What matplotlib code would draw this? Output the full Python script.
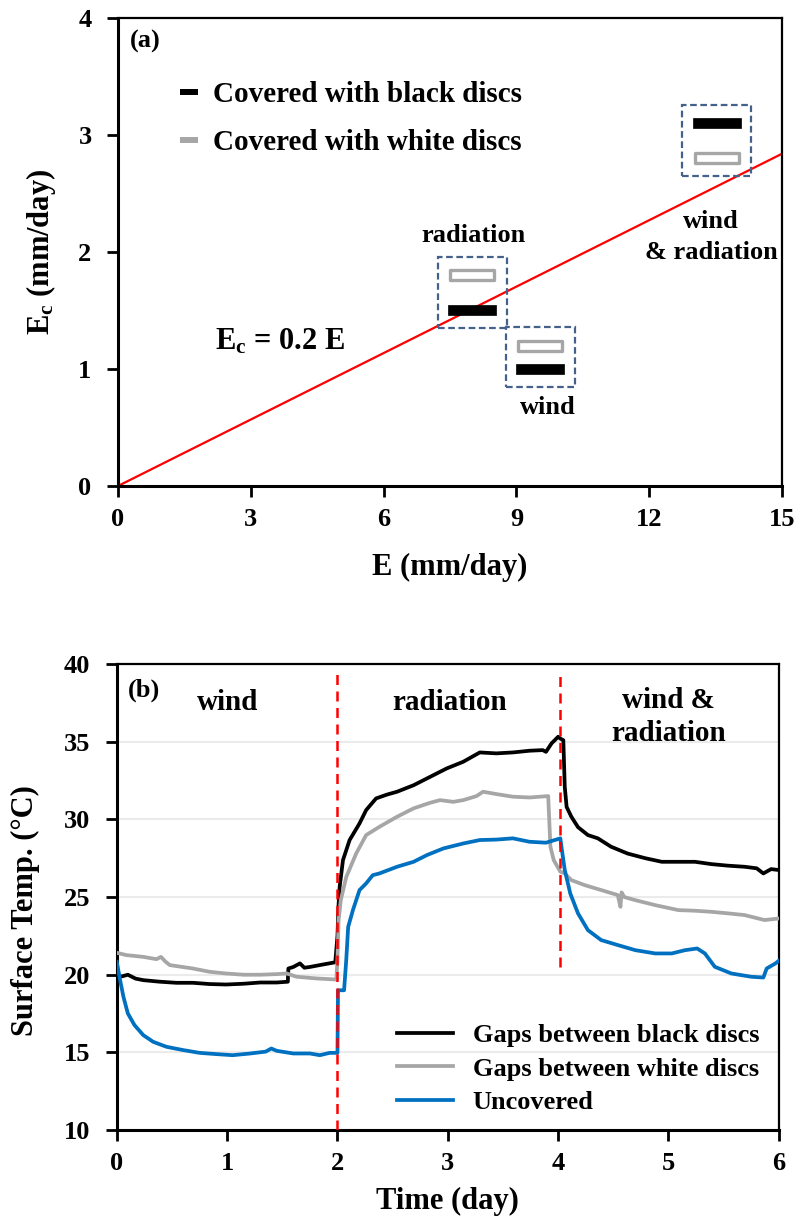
import matplotlib
matplotlib.use('Agg')
import matplotlib.pyplot as plt
from matplotlib.path import Path
from matplotlib.patches import Rectangle
from matplotlib.lines import Line2D

plt.rcParams['font.family'] = ['Liberation Serif', 'DejaVu Serif']
plt.rcParams['font.weight'] = 'bold'
plt.rcParams['axes.labelweight'] = 'bold'
plt.rcParams['mathtext.fontset'] = 'custom'
plt.rcParams['mathtext.rm'] = 'Liberation Serif:bold'
plt.rcParams['mathtext.bf'] = 'Liberation Serif:bold'
plt.rcParams['mathtext.it'] = 'Liberation Serif:bold'

# ---- panel (a) data ----
fit_E = [0, 15]
fit_Ec = [0, 2.84]
case_names = ['radiation', 'wind', 'wind\n& radiation']
case_E = [8.0, 9.54, 13.53]
black_Ec = [1.50, 1.00, 3.10]
white_Ec = [1.80, 1.20, 2.80]
label_E = [8.02, 9.71, 13.4]
label_Ec = [2.145, 0.675, 2.125]

# ---- panel (b) data ----
black_t = [0, 0.05, 0.10, 0.17, 0.24, 0.39, 0.54, 0.69, 0.84, 0.99, 1.15, 1.30, 1.45, 1.55,
           1.555, 1.60, 1.66, 1.70, 1.75, 1.87, 1.98, 2.00, 2.01, 2.02, 2.05, 2.11, 2.20,
           2.26, 2.35, 2.45, 2.54, 2.69, 2.84, 2.99, 3.14, 3.29, 3.44, 3.59, 3.74, 3.86,
           3.89, 3.94, 4.00, 4.02, 4.047, 4.06, 4.077, 4.12, 4.18, 4.27, 4.36, 4.48, 4.63,
           4.79, 4.94, 5.09, 5.24, 5.39, 5.54, 5.69, 5.80, 5.86, 5.93, 6.0]
black_T = [19.87, 19.9, 20.0, 19.75, 19.65, 19.55, 19.48, 19.48, 19.4, 19.37, 19.42, 19.5,
           19.5, 19.55, 20.4, 20.5, 20.73, 20.45, 20.5, 20.66, 20.8, 22.5, 24.5, 25.66,
           27.38, 28.67, 29.74, 30.6, 31.35, 31.6, 31.78, 32.2, 32.74, 33.28, 33.71, 34.31,
           34.25, 34.31, 34.42, 34.46, 34.35, 34.89, 35.32, 35.2, 35.1, 32.1, 30.8, 30.17,
           29.5, 28.99, 28.78, 28.24, 27.8, 27.5, 27.27, 27.27, 27.27, 27.12, 27.02, 26.95,
           26.85, 26.52, 26.8, 26.74]

white_t = [0, 0.09, 0.24, 0.36, 0.40, 0.44, 0.48, 0.69, 0.84, 0.99, 1.15, 1.30, 1.45, 1.54,
           1.63, 1.81, 1.99, 2.00, 2.01, 2.03, 2.08, 2.17, 2.26, 2.38, 2.54, 2.69, 2.84,
           2.93, 3.05, 3.14, 3.26, 3.32, 3.44, 3.59, 3.74, 3.91, 3.93, 3.96, 4.02, 4.06,
           4.12, 4.24, 4.39, 4.54, 4.565, 4.575, 4.60, 4.70, 4.88, 5.09, 5.24, 5.39, 5.54,
           5.69, 5.87, 6.0]
white_T = [21.41, 21.26, 21.15, 21.0, 21.15, 20.85, 20.62, 20.4, 20.19, 20.08, 20.0, 20.0,
           20.04, 20.08, 19.87, 19.76, 19.69, 21.0, 23.5, 24.8, 26.3, 27.81, 28.99, 29.52,
           30.17, 30.71, 31.07, 31.24, 31.13, 31.24, 31.5, 31.78, 31.63, 31.46, 31.41,
           31.5, 28.24, 27.38, 26.63, 26.52, 26.09, 25.77, 25.45, 25.13, 24.37, 25.3, 25.0,
           24.8, 24.48, 24.16, 24.12, 24.05, 23.95, 23.84, 23.52, 23.62]

bare_t = [0, 0.03, 0.06, 0.10, 0.16, 0.24, 0.33, 0.45, 0.60, 0.75, 0.90, 1.05, 1.21, 1.35,
          1.40, 1.45, 1.60, 1.75, 1.84, 1.93, 2.00, 2.005, 2.06, 2.08, 2.097, 2.14, 2.20,
          2.26, 2.32, 2.38, 2.54, 2.69, 2.81, 2.96, 3.14, 3.29, 3.44, 3.59, 3.74, 3.89,
          4.02, 4.03, 4.06, 4.11, 4.18, 4.27, 4.39, 4.54, 4.70, 4.88, 5.03, 5.15, 5.26,
          5.33, 5.42, 5.57, 5.75, 5.86, 5.89, 5.97, 6.0]
bare_T = [20.83, 19.65, 18.58, 17.51, 16.76, 16.11, 15.68, 15.36, 15.15, 14.97, 14.89,
          14.82, 14.93, 15.05, 15.25, 15.1, 14.93, 14.93, 14.82, 14.97, 14.97, 19.0, 19.0,
          21.0, 23.08, 24.16, 25.45, 25.88, 26.41, 26.52, 26.95, 27.27, 27.7, 28.13, 28.45,
          28.67, 28.7, 28.78, 28.56, 28.5, 28.78, 28.24, 26.74, 25.23, 23.95, 22.87, 22.23,
          21.91, 21.58, 21.37, 21.37, 21.58, 21.69, 21.37, 20.51, 20.08, 19.87, 19.82,
          20.4, 20.73, 20.9]

phase_names = ['wind', 'radiation', 'wind &\nradiation']
phase_t = [1.0, 3.02, 5.0]
phase_T = [37.55, 37.55, 36.6]
switch_t = [2.0, 4.02]
switch_lo = [10, 20.5]
switch_hi = [39.7, 39.2]

GRAY = '#a6a6a6'
BLUE = '#0070c0'
BOX = '#44618c'

fig = plt.figure(figsize=(8, 12.18), dpi=100)
ax1 = fig.add_axes([0.1475, 0.601, 0.83, 0.3842])
ax2 = fig.add_axes([0.146, 0.0722, 0.8275, 0.3826])

# ---------------- panel (a) ----------------
ax1.plot(fit_E, fit_Ec, color='red', lw=1.6, zorder=2)

bar = Path([(-1, -0.21), (1, -0.21), (1, 0.21), (-1, 0.21), (-1, -0.21)],
           [Path.MOVETO, Path.LINETO, Path.LINETO, Path.LINETO, Path.CLOSEPOLY])
ax1.plot(case_E, black_Ec, ls='none', marker=bar, ms=34, mfc='black', mec='black', mew=0.5, zorder=4)
ax1.plot(case_E, white_Ec, ls='none', marker=bar, ms=32, mfc='white', mec=GRAY, mew=2.4, zorder=4)

for e, b, w in zip(case_E, black_Ec, white_Ec):
    lo = min(b, w) - 0.15
    hi = max(b, w) + 0.16
    ax1.add_patch(Rectangle((e - 0.78, lo), 1.56, hi - lo, fill=False, ec=BOX,
                            lw=1.6, ls=(0, (3, 1.6)), zorder=3))

for name, x, y in zip(case_names, label_E, label_Ec):
    ax1.text(x, y, name, ha='center', va='center', fontsize=19, linespacing=1.45)

ax1.text(2.2, 1.23, r'$\mathbf{E_c}$ = 0.2 E', fontsize=22, ha='left', va='center')
ax1.text(0.018, 0.949, '(a)', transform=ax1.transAxes, fontsize=19, va='center')

h1 = [Line2D([], [], color='black', lw=4.3, solid_capstyle='butt'),
      Line2D([], [], color=GRAY, lw=4.3, solid_capstyle='butt')]
ax1.legend(h1, ['Covered with black discs', 'Covered with white discs'], loc='upper left',
           bbox_to_anchor=(0.094, 0.866), frameon=False, fontsize=21, handlelength=0.62,
           handletextpad=0.5, labelspacing=0.72, borderpad=0, borderaxespad=0)

ax1.set_xlim(0, 15)
ax1.set_ylim(0, 4)
ax1.set_xticks([0, 3, 6, 9, 12, 15])
ax1.set_yticks([0, 1, 2, 3, 4])
ax1.set_xlabel('E (mm/day)', fontsize=22)
ax1.set_ylabel(r'$\mathbf{E_c}$ (mm/day)', fontsize=22)
ax1.xaxis.set_label_coords(0.5, -0.143)
ax1.yaxis.set_label_coords(-0.09, 0.5)

# ---------------- panel (b) ----------------
ax2.yaxis.grid(True, color='#ebebeb', lw=1.5, zorder=0)
ax2.plot(black_t, black_T, color='black', lw=2.7, label='Gaps between black discs', zorder=3)
ax2.plot(white_t, white_T, color=GRAY, lw=2.7, label='Gaps between white discs', zorder=3)
ax2.plot(bare_t, bare_T, color=BLUE, lw=2.7, label='Uncovered', zorder=3)
ax2.vlines(switch_t, switch_lo, switch_hi, colors='red', lw=1.8, linestyles=(0, (4, 2.6)), zorder=4)

for name, x, y in zip(phase_names, phase_t, phase_T):
    ax2.text(x, y, name, ha='center', va='center', fontsize=21, linespacing=1.3)
ax2.text(0.017, 0.944, '(b)', transform=ax2.transAxes, fontsize=19, va='center')

ax2.legend(loc='upper left', bbox_to_anchor=(0.424, 0.228), frameon=False, fontsize=19,
           handlelength=2.1, handletextpad=0.75, labelspacing=0.37, borderpad=0, borderaxespad=0)

ax2.set_xlim(0, 6)
ax2.set_ylim(10, 40)
ax2.set_xticks(range(0, 7))
ax2.set_yticks(range(10, 41, 5))
ax2.set_xlabel('Time (day)', fontsize=22)
ax2.set_ylabel('Surface Temp. (\u00b0C)', fontsize=22)
ax2.xaxis.set_label_coords(0.5, -0.122)
ax2.yaxis.set_label_coords(-0.116, 0.472)

for ax in (ax1, ax2):
    ax.set_axisbelow(True)
    for side in ['left', 'bottom']:
        ax.spines[side].set_linewidth(2.2)
    for side in ['top', 'right']:
        ax.spines[side].set_linewidth(1.6)
    ax.tick_params(axis='both', direction='out', length=8, width=2, labelsize=19)
    ax.tick_params(axis='y', pad=11)
    ax.tick_params(axis='x', pad=8)

fig.savefig('out.png', dpi=100)
